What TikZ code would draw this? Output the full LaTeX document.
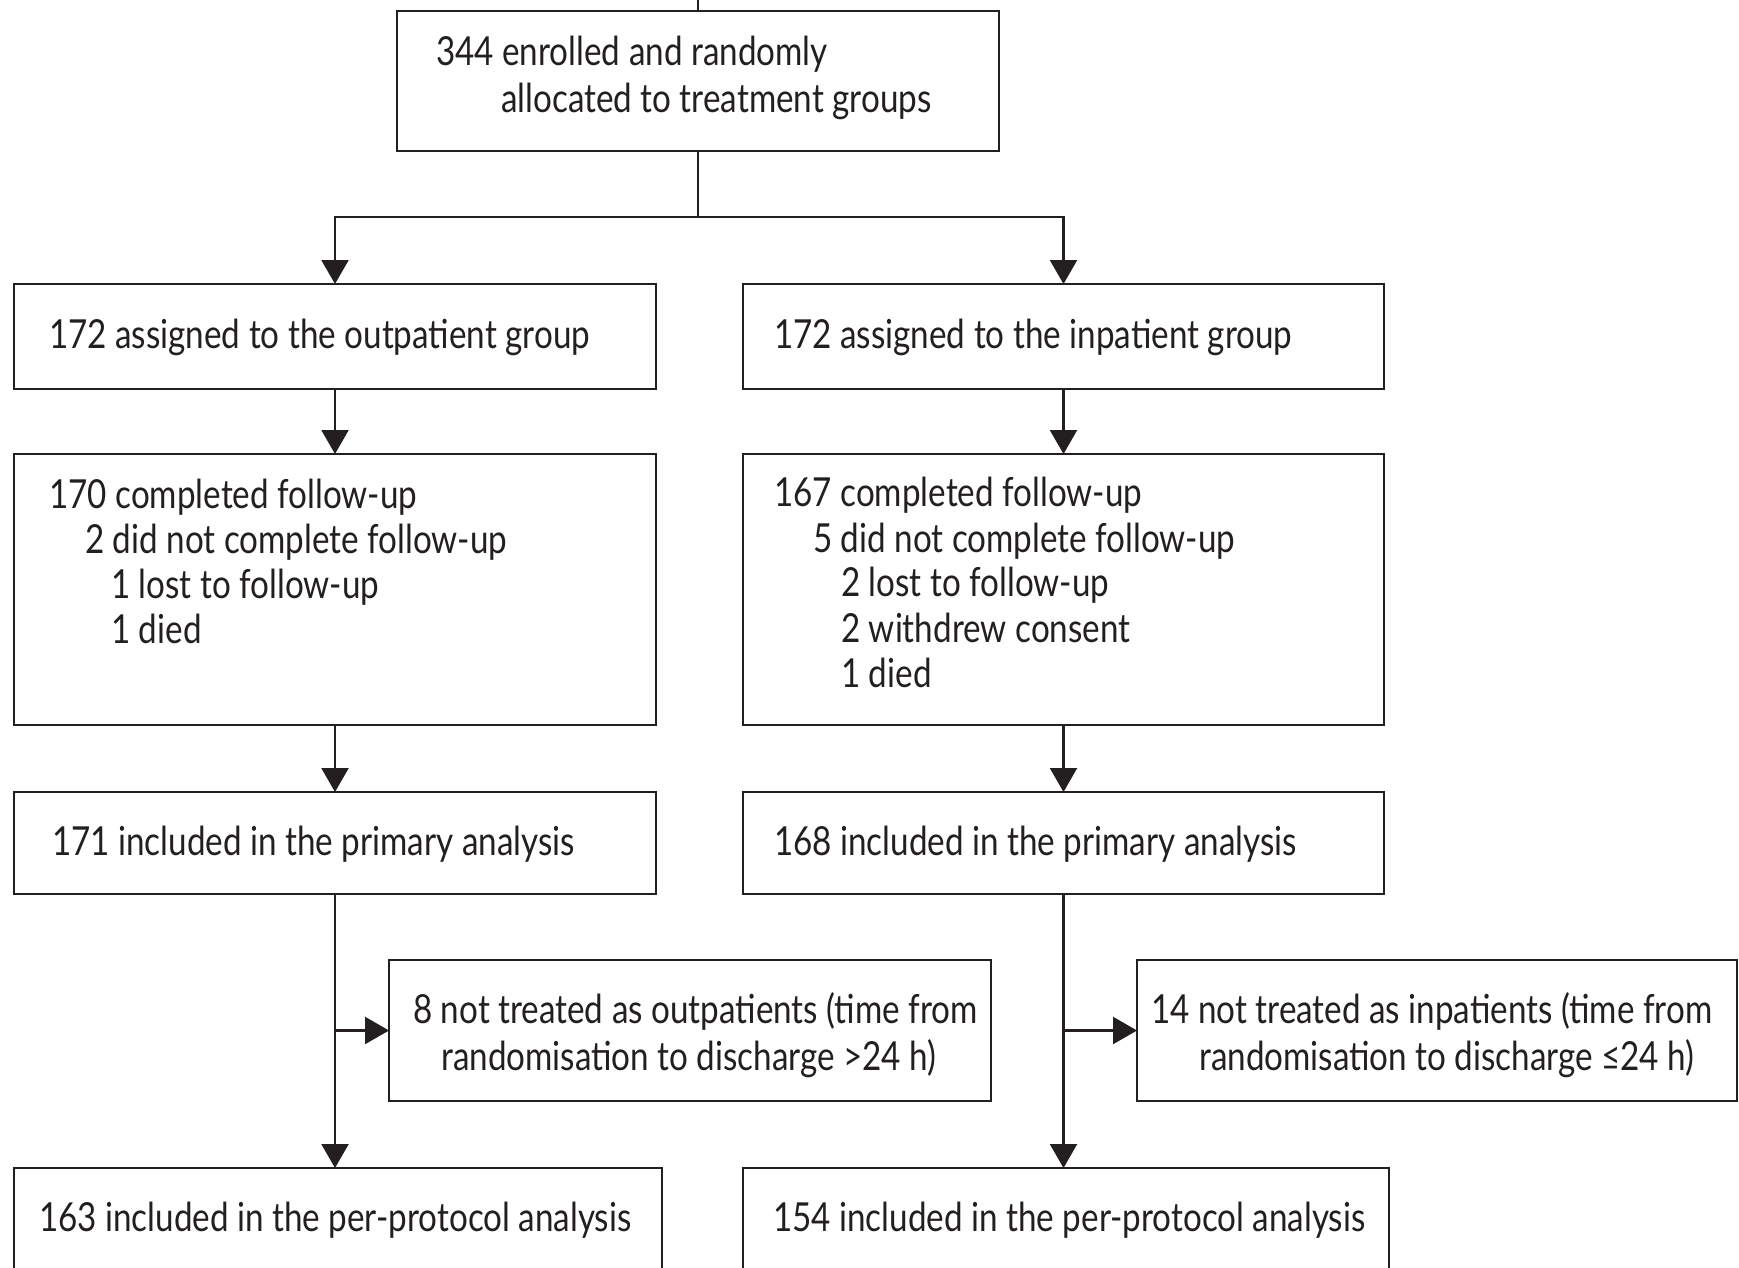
\documentclass[tikz,border=0pt]{standalone}
\usepackage{fontspec}
\setmainfont{Lato}[FakeStretch=0.83]
\usetikzlibrary{arrows.meta}
\definecolor{ink}{RGB}{35,31,32}
\begin{document}
\begin{tikzpicture}[x=1pt,y=-1pt,
  box/.style={draw=ink,line width=2.2pt,rectangle,inner sep=0pt,outer sep=0pt},
  txt/.style={anchor=base west,inner sep=0pt,text=ink,font=\fontsize{40}{45}\selectfont},
  arr/.style={draw=ink,line width=2.2pt,-{Triangle[length=24pt,width=27pt]}},
  ln/.style={draw=ink,line width=2.2pt}]
\clip (0,0) rectangle (1739,1267);
\fill[white] (0,0) rectangle (1739,1267);
% boxes
\node[box,minimum width=602pt,minimum height=140pt] (top) at (698,81) {};
\node[box,minimum width=642pt,minimum height=105pt] (o1) at (335,336.5) {};
\node[box,minimum width=641pt,minimum height=105pt] (i1) at (1063.5,336.5) {};
\node[box,minimum width=642pt,minimum height=271pt] (o2) at (335,589.5) {};
\node[box,minimum width=641pt,minimum height=271pt] (i2) at (1063.5,589.5) {};
\node[box,minimum width=642pt,minimum height=102pt] (o3) at (335,843) {};
\node[box,minimum width=641pt,minimum height=102pt] (i3) at (1063.5,843) {};
\node[box,minimum width=602pt,minimum height=141pt] (os) at (690,1030.5) {};
\node[box,minimum width=600pt,minimum height=141pt] (is) at (1437,1030.5) {};
\node[box,minimum width=648pt,minimum height=132pt] (o4) at (338,1234) {};
\node[box,minimum width=646pt,minimum height=132pt] (i4) at (1066,1234) {};
% texts
\node[txt] (t1) at (436,65) {344 enrolled and randomly};
\node[txt] (t2) at (501,112) {allocated to treatment groups};
\node[txt] (to1) at (49,348) {172 assigned to the outpatient group};
\node[txt] (ti1) at (774,348) {172 assigned to the inpatient group};
\node[txt] (to2a) at (49,508) {170 completed follow-up};
\node[txt] (to2b) at (85,553) {2 did not complete follow-up};
\node[txt] (to2c) at (111,598) {1 lost to follow-up};
\node[txt] (to2d) at (111,643) {1 died};
\node[txt] (ti2a) at (774,506) {167 completed follow-up};
\node[txt] (ti2b) at (813,552) {5 did not complete follow-up};
\node[txt] (ti2c) at (841,596) {2 lost to follow-up};
\node[txt] (ti2d) at (841,642) {2 withdrew consent};
\node[txt] (ti2e) at (841,687) {1 died};
\node[txt] (to3) at (52,855) {171 included in the primary analysis};
\node[txt] (ti3) at (774,855) {168 included in the primary analysis};
\node[txt] (tosa) at (413,1023) {8 not treated as outpatients (time from};
\node[txt] (tosb) at (441,1070) {randomisation to discharge >24 h)};
\node[txt] (tisa) at (1151,1023) {14 not treated as inpatients (time from};
\node[txt] (tisb) at (1199,1070) {randomisation to discharge ≤24 h)};
\node[txt] (to4) at (39,1231) {163 included in the per-protocol analysis};
\node[txt] (ti4) at (773,1231) {154 included in the per-protocol analysis};
% connectors
\coordinate (tick) at (698,0);
\draw[ln] (tick) -- (top.north);
\coordinate (split) at (698,217);
\draw[ln] (top.south) -- (split);
\draw[arr] (split) -| (o1.north);
\draw[arr] (split) -| (i1.north);
\draw[arr] (o1.south) -- (o2.north);
\draw[arr] (i1.south) -- (i2.north);
\draw[arr] (o2.south) -- (o3.north);
\draw[arr] (i2.south) -- (i3.north);
\draw[arr] (o3.south) -- (o3.south |- o4.north);
\draw[arr] (i3.south) -- (i3.south |- i4.north);
\coordinate (ob) at (o3.south |- os.west);
\coordinate (ib) at (i3.south |- is.west);
\draw[arr] (ob) -- (os.west);
\draw[arr] (ib) -- (is.west);
\end{tikzpicture}
\end{document}
